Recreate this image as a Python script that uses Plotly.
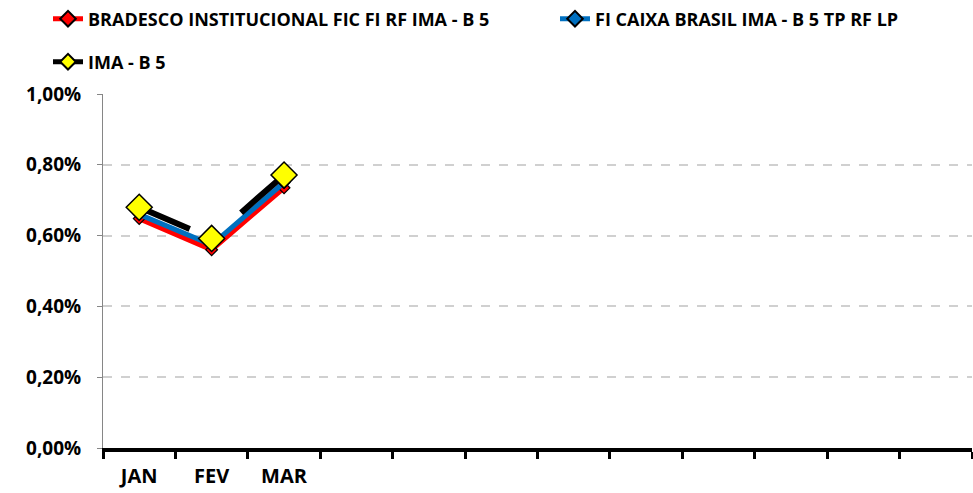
import plotly.graph_objects as go

months = ["JAN", "FEV", "MAR", "ABR", "MAI", "JUN", "JUL", "AGO", "SET", "OUT", "NOV", "DEZ"]
tick_labels = ["JAN", "FEV", "MAR", "", "", "", "", "", "", "", "", ""]

s1_name = "BRADESCO INSTITUCIONAL FIC FI RF IMA - B 5"
s1_vals = [0.00648, 0.00560, 0.00735]
s2_name = "FI CAIXA BRASIL IMA - B 5 TP RF LP"
s2_vals = [0.00660, 0.00574, 0.00750]
s3_name = "IMA - B 5"
s3_vals = [0.00680, 0.00592, 0.00771]

y_ticks = [0, 0.002, 0.004, 0.006, 0.008, 0.010]

FONT = "Open Sans, sans-serif"
W, H = 973, 493

fig = go.Figure()
fig.add_trace(go.Scatter(
    x=months[:len(s1_vals)], y=s1_vals, name=s1_name, mode="lines+markers",
    line=dict(color="#ff0000", width=5),
    marker=dict(symbol="diamond", size=9, color="#ff0000", line=dict(color="black", width=1.2)),
    legend="legend",
))
fig.add_trace(go.Scatter(
    x=months[:len(s2_vals)], y=s2_vals, name=s2_name, mode="lines+markers",
    line=dict(color="#0070c0", width=5),
    marker=dict(symbol="diamond", size=9, color="#0070c0", line=dict(color="black", width=1.2)),
    legend="legend2",
))
fig.add_trace(go.Scatter(
    x=months[:len(s3_vals)], y=s3_vals, name=s3_name, mode="lines+markers",
    line=dict(color="black", width=6, dash="55px,18px,15px,30px"),
    marker=dict(symbol="diamond", size=20, color="#ffff00", line=dict(color="black", width=1.5)),
    legend="legend3",
))

legend_font = dict(family=FONT, size=18, color="black", weight="bold")


def leg(x_px, y_px):
    return dict(
        orientation="h", xref="container", yref="container",
        x=x_px / W, xanchor="left", y=1 - y_px / H, yanchor="middle",
        font=legend_font, itemsizing="constant", bgcolor="rgba(0,0,0,0)",
    )


fig.update_layout(
    width=W, height=H,
    margin=dict(l=103, r=1, t=94, b=45, autoexpand=False),
    paper_bgcolor="white", plot_bgcolor="white",
    separators=",.",
    font=dict(family=FONT, size=16, color="black"),
    showlegend=True,
    legend=leg(48, 19),
    legend2=leg(555, 19),
    legend3=leg(48, 62),
    xaxis=dict(
        type="category", categoryorder="array", categoryarray=months,
        tickmode="array", tickvals=months, ticktext=tick_labels,
        tickson="boundaries", range=[-0.5, 11.5],
        ticks="outside", ticklen=7, tickwidth=3, tickcolor="black",
        showline=True, linecolor="black", linewidth=4,
        showgrid=False, zeroline=False, automargin=False,
        ticklabelstandoff=7,
        tickfont=dict(family=FONT, size=20, color="black", weight="bold"),
    ),
    yaxis=dict(
        range=[0, 0.010], tickvals=y_ticks, tickformat=".2%",
        ticks="outside", ticklen=5, tickcolor="#868686",
        showline=True, linecolor="#868686", linewidth=1,
        showgrid=True, gridcolor="#d0d0d0", griddash="dash", gridwidth=1.5,
        zeroline=False, automargin=False,
        ticklabelstandoff=12,
        tickfont=dict(family=FONT, size=19, color="black", weight="bold"),
    ),
)

fig.write_html(
    "out.html",
    config={"displayModeBar": False},
    post_script="document.body.style.margin='0';document.body.style.overflow='hidden';",
)
